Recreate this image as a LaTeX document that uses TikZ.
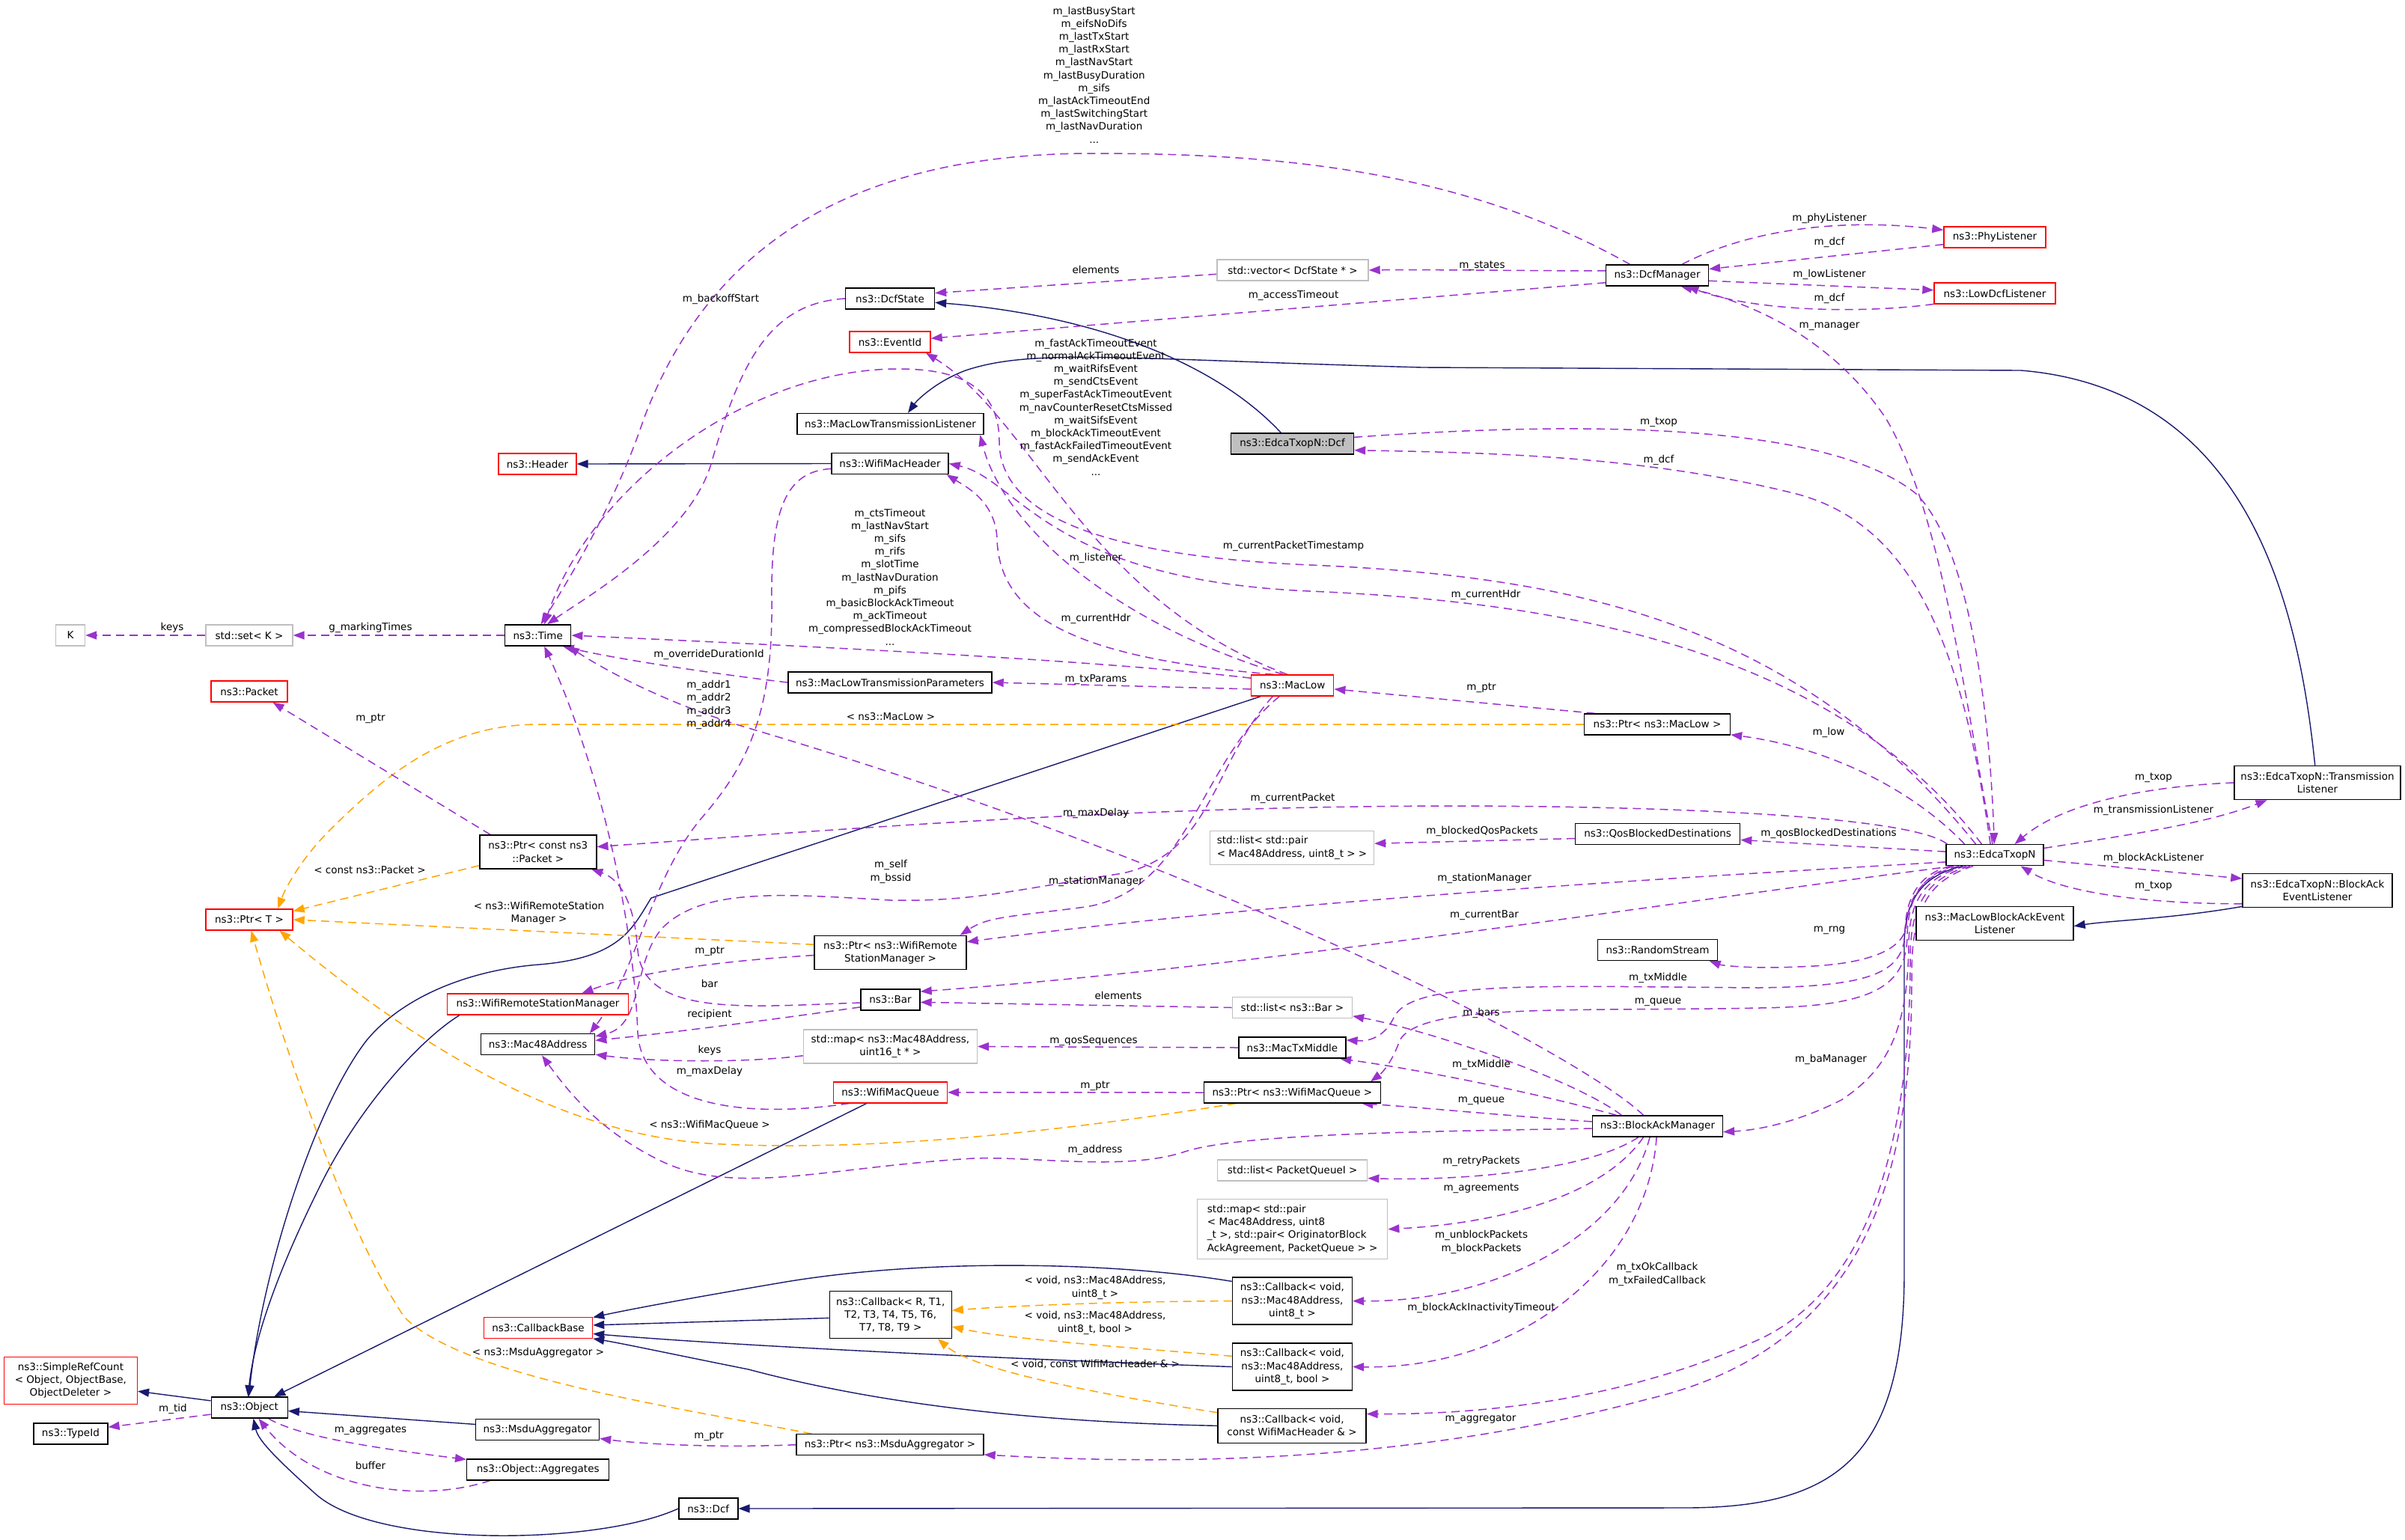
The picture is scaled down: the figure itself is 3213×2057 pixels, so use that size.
\documentclass[tikz,border=0pt]{standalone}
\usepackage{fontspec}
\setmainfont{DejaVu Sans}
\usetikzlibrary{arrows.meta}
\newcommand\dgfont{\fontsize{13.5}{17.2}\selectfont}
\definecolor{memc}{HTML}{9A32CD}
\definecolor{tmplc}{HTML}{FFA500}
\definecolor{inhc}{HTML}{191970}
\definecolor{grayb}{HTML}{BFBFBF}
\pgfdeclarelayer{back}
\pgfdeclarelayer{edges}
\pgfsetlayers{back,edges,main}
\tikzset{
  cls/.style={draw=black, line width=1.4pt, fill=white, font=\dgfont, minimum height=28pt, inner xsep=4pt, inner ysep=3pt, align=center},
  redcls/.style={cls, draw=red},
  graycls/.style={cls, draw=grayb},
  mem/.style={draw=memc, line width=1.5pt, dash pattern=on 11pt off 7pt, -{Triangle[length=15pt,width=11pt]}},
  tmpl/.style={mem, draw=tmplc},
  inh/.style={draw=inhc, line width=1.4pt, -{Triangle[length=15pt,width=11pt]}},
  lbl/.style={font=\dgfont, inner sep=0pt, align=center},
}
\begin{document}
\begin{tikzpicture}[x=1pt,y=-1pt]
\begin{pgfonlayer}{back}
\fill[white] (0,0) rectangle (3213,2057);
\end{pgfonlayer}
\path[use as bounding box] (0,0) rectangle (3213,2057);

% ---------------- nodes ----------------
\node[graycls, minimum width=202] (vec) at (1727,361) {std::vector< DcfState * >};
\node[cls, minimum width=119] (dcfstate) at (1189,399) {ns3::DcfState};
\node[redcls, minimum width=108] (eventid) at (1189,457) {ns3::EventId};
\node[cls, minimum width=249] (mltl) at (1189.5,566.5) {ns3::MacLowTransmissionListener};
\node[cls, minimum width=156] (wmh) at (1189,619.5) {ns3::WifiMacHeader};
\node[cls, fill=grayb, minimum width=164] (edcadcf) at (1726.5,593) {ns3::EdcaTxopN::Dcf};
\node[cls, minimum width=137] (dcfman) at (2214,368) {ns3::DcfManager};
\node[redcls, minimum width=136] (phyl) at (2665,317) {ns3::PhyListener};
\node[redcls, minimum width=162] (lowdcfl) at (2665,392) {ns3::LowDcfListener};
\node[redcls, minimum width=104] (header) at (718,620) {ns3::Header};
\node[graycls, minimum width=39] (K) at (94,849) {K};
\node[graycls, minimum width=116] (setK) at (333,849) {std::set< K >};
\node[cls, minimum width=88] (time) at (718.7,849) {ns3::Time};
\node[redcls, minimum width=102] (packet) at (333,924) {ns3::Packet};
\node[cls, minimum width=272] (mltp) at (1189,912) {ns3::MacLowTransmissionParameters};
\node[redcls, minimum width=110] (maclow) at (1726.7,916) {ns3::MacLow};
\node[graycls, minimum width=219, minimum height=45, align=left] (listpair) at (1726,1133) {std::list< std::pair\\< Mac48Address, uint8\_t > >};
\node[cls, minimum width=203, minimum height=45] (ptrwrsm) at (1189.5,1273) {ns3::Ptr< ns3::WifiRemote\\StationManager >};
\node[cls, minimum width=195] (ptrmaclow) at (2214,968) {ns3::Ptr< ns3::MacLow >};
\node[cls, minimum width=220] (qbd) at (2214.6,1114.7) {ns3::QosBlockedDestinations};
\node[cls, minimum width=130] (edca) at (2665,1142.7) {ns3::EdcaTxopN};
\node[cls, minimum width=222, minimum height=45] (txlist) at (3096,1046) {ns3::EdcaTxopN::Transmission\\Listener};
\node[cls, minimum width=200, minimum height=45] (baevl) at (3096,1190) {ns3::EdcaTxopN::BlockAck\\EventListener};
\node[cls, minimum width=210, minimum height=45] (mlbael) at (2665,1234) {ns3::MacLowBlockAckEvent\\Listener};
\node[cls, minimum width=160] (rng) at (2214.5,1269.5) {ns3::RandomStream};
\node[cls, minimum width=156, minimum height=45] (ptrpkt) at (718.8,1138.5) {ns3::Ptr< const ns3\\::Packet >};
\node[redcls, minimum width=242] (wrsm) at (718.5,1342) {ns3::WifiRemoteStationManager};
\node[cls, minimum width=152] (mac48) at (718.7,1395.7) {ns3::Mac48Address};
\node[cls, minimum width=79] (bar) at (1189.5,1335.8) {ns3::Bar};
\node[graycls, minimum width=232, minimum height=45] (mapmac) at (1189.4,1398.5) {std::map< ns3::Mac48Address,\\uint16\_t * >};
\node[redcls, minimum width=152] (wmq) at (1189.4,1459.8) {ns3::WifiMacQueue};
\node[graycls, minimum width=160] (listbar) at (1726.4,1346.5) {std::list< ns3::Bar >};
\node[cls, minimum width=143] (mtm) at (1726.4,1400) {ns3::MacTxMiddle};
\node[cls, minimum width=236] (ptrwmq) at (1726.4,1460) {ns3::Ptr< ns3::WifiMacQueue >};
\node[cls, minimum width=174] (bam) at (2214.4,1505) {ns3::BlockAckManager};
\node[graycls, minimum width=200] (listpq) at (1726.7,1564) {std::list< PacketQueueI >};
\node[graycls, minimum width=254, minimum height=80, align=left] (mappair) at (1726.7,1642.6) {std::map< std::pair\\< Mac48Address, uint8\\\_t >, std::pair< OriginatorBlock\\AckAgreement, PacketQueue > >};
\node[cls, minimum width=160, minimum height=63] (cb1) at (1726.4,1738.6) {ns3::Callback< void,\\ns3::Mac48Address,\\uint8\_t >};
\node[cls, minimum width=160, minimum height=63] (cb2) at (1726.4,1826.5) {ns3::Callback< void,\\ns3::Mac48Address,\\uint8\_t, bool >};
\node[cls, minimum width=163, minimum height=63] (cbR) at (1189.7,1757) {ns3::Callback< R, T1,\\T2, T3, T4, T5, T6,\\T7, T8, T9 >};
\node[cls, minimum width=198, minimum height=46] (cb3) at (1726,1905.3) {ns3::Callback< void,\\const WifiMacHeader \& >};
\node[cls, minimum width=250] (ptrmsdu) at (1189,1930.7) {ns3::Ptr< ns3::MsduAggregator >};
\node[redcls, minimum width=178, minimum height=63] (simpleref) at (94.4,1845) {ns3::SimpleRefCount\\< Object, ObjectBase,\\ObjectDeleter >};
\node[cls, minimum width=99] (typeid) at (94.4,1916) {ns3::TypeId};
\node[cls, minimum width=102] (object) at (333.2,1881) {ns3::Object};
\node[redcls, minimum width=145] (cbbase) at (719,1774.7) {ns3::CallbackBase};
\node[cls, minimum width=165] (msdu) at (718,1910.7) {ns3::MsduAggregator};
\node[cls, minimum width=190] (aggr) at (718.7,1963.8) {ns3::Object::Aggregates};
\node[cls, minimum width=79] (dcf) at (946.3,2016) {ns3::Dcf};
\node[redcls, minimum width=116] (ptrT) at (333,1229) {ns3::Ptr< T >};

\begin{pgfonlayer}{edges}
% ---------------- inheritance ----------------
\draw[inh] (edcadcf.136) .. controls (1620,480) and (1450,420) .. (dcfstate.-5);
\draw[inh] (txlist.98) .. controls (3070,800) and (3000,520) .. (2700,495) -- (1900,491) .. controls (1500,480) and (1380,465) .. (1290,495) .. controls (1250,510) and (1225,535) .. (mltl.32);
\draw[inh] (wmh.west) -- (header.east);
\draw[inh] (maclow.-161) -- (870,1200) .. controls (845,1240) and (830,1280) .. (720,1289) .. controls (630,1296) and (540,1330) .. (490,1390) .. controls (420,1480) and (350,1700) .. (object.93);
\draw[inh] (wrsm.-172) .. controls (560,1390) and (480,1480) .. (430,1580) .. controls (380,1680) and (340,1780) .. (object.97);
\draw[inh] (wmq.-155) -- (object.24);
\draw[inh] (msdu.175) -- (object.-5);
\draw[inh] (object.170) -- (simpleref.-9);
\draw[inh] (dcf.west) .. controls (800,2065) and (500,2070) .. (420,1995) .. controls (370,1950) and (345,1925) .. (object.-70);
\draw[inh] (edca.-161) .. controls (2575,1168) and (2545,1195) .. (2544,1260) -- (2544,1700) .. controls (2544,1950) and (2450,2015) .. (2250,2015) -- (dcf.east);
\draw[inh] (baevl.-168) .. controls (2900,1228) and (2820,1230) .. (mlbael.-2);
\draw[inh] (cb1.162) .. controls (1500,1688) and (1250,1680) .. (1050,1713) .. controls (920,1735) and (840,1750) .. (cbbase.11);
\draw[inh] (cbR.183) -- (cbbase.3);
\draw[inh] (cb2.west) .. controls (1400,1818) and (1000,1800) .. (cbbase.-6);
\draw[inh] (cb3.west) .. controls (1350,1900) and (1150,1870) .. (1000,1830) .. controls (900,1810) and (830,1795) .. (cbbase.-11);

% ---------------- template instances ----------------
\draw[tmpl] (ptrmaclow.west) -- (720,968) .. controls (600,968) and (520,1030) .. (440,1110) .. controls (400,1150) and (380,1190) .. (ptrT.21);
\draw[tmpl] (ptrpkt.193) -- (ptrT.11);
\draw[tmpl] (ptrwrsm.174) -- (ptrT.east);
\draw[tmpl] (ptrwmq.-169) .. controls (1400,1515) and (1150,1540) .. (946,1528) .. controls (750,1515) and (560,1400) .. (ptrT.-20);
\draw[tmpl] (ptrmsdu.172) .. controls (900,1880) and (620,1840) .. (540,1760) .. controls (460,1640) and (380,1400) .. (ptrT.-80);
\draw[tmpl] (cb1.west) .. controls (1500,1739) and (1350,1745) .. (cbR.4);
\draw[tmpl] (cb2.170) .. controls (1500,1800) and (1350,1790) .. (cbR.-11);
\draw[tmpl] (cb3.170) .. controls (1450,1860) and (1300,1830) .. (cbR.-27);

% ---------------- members ----------------
\draw[mem] (dcfman.158) .. controls (1950,225) and (1700,205) .. (1460,205) .. controls (1150,205) and (950,320) .. (860,560) .. controls (820,680) and (750,790) .. (time.75);
\draw[mem] (dcfman.175) .. controls (2050,362) and (1900,360) .. (vec.east);
\draw[mem] (vec.183) -- (dcfstate.7);
\draw[mem] (dcfman.-172) -- (eventid.5);
\draw[mem] (dcfman.24) .. controls (2330,310) and (2450,290) .. (phyl.172);
\draw[mem] (phyl.-172) -- (dcfman.7);
\draw[mem] (dcfman.-6) -- (lowdcfl.177);
\draw[mem] (lowdcfl.-170) .. controls (2480,420) and (2340,415) .. (dcfman.-20);
\draw[mem] (edca.102) .. controls (2620,900) and (2590,680) .. (2520,560) .. controls (2440,440) and (2320,400) .. (dcfman.-25);
\draw[mem] (dcfstate.west) .. controls (1030,405) and (990,480) .. (950,620) .. controls (920,720) and (780,800) .. (time.50);
\draw[mem] (edcadcf.6) .. controls (2150,560) and (2450,570) .. (2560,660) .. controls (2640,740) and (2660,1000) .. (edca.93);
\draw[mem] (edca.112) .. controls (2620,850) and (2550,700) .. (2400,660) .. controls (2200,610) and (2000,605) .. (edcadcf.-6);
\draw[mem] (maclow.115) .. controls (1450,800) and (1380,560) .. (eventid.-17);
\draw[mem] (maclow.130) .. controls (1480,830) and (1340,700) .. (mltl.-7);
\draw[mem] (edca.140) .. controls (2450,870) and (2100,805) .. (1750,790) .. controls (1400,775) and (1360,640) .. (wmh.east);
\draw[mem] (maclow.150) .. controls (1450,880) and (1335,830) .. (1332,720) .. controls (1330,670) and (1290,650) .. (wmh.-11);
\draw[mem] (edca.150) .. controls (2400,830) and (2100,770) .. (1750,755) .. controls (1450,742) and (1335,680) .. (1335,590) .. controls (1335,510) and (1270,493) .. (1200,493) .. controls (1000,493) and (790,650) .. (time.60);
\draw[mem] (maclow.170) .. controls (1450,880) and (1000,860) .. (time.east);
\draw[mem] (mltp.west) .. controls (950,900) and (820,880) .. (time.-24);
\draw[mem] (wmh.185) .. controls (1050,630) and (1030,680) .. (1031,800) .. controls (1033,950) and (1000,1020) .. (940,1090) .. controls (870,1170) and (850,1300) .. (mac48.12);
\draw[mem] (wmq.-165) .. controls (1000,1495) and (858,1480) .. (852,1380) .. controls (845,1200) and (790,1000) .. (time.-60);
\draw[mem] (bam.142) .. controls (2100,1400) and (1600,1150) .. (1000,973) .. controls (880,937) and (800,890) .. (time.-20);
\draw[mem] (setK.west) -- (K.east);
\draw[mem] (time.west) -- (setK.east);
\draw[mem] (ptrpkt.160) -- (packet.-25);
\draw[mem] (maclow.185) -- (mltp.east);
\draw[mem] (ptrmaclow.170) -- (maclow.-5);
\draw[mem] (edca.160) .. controls (2560,1060) and (2450,1000) .. (ptrmaclow.-8);
\draw[mem] (edca.167) .. controls (2560,1095) and (2300,1078) .. (1950,1077) .. controls (1500,1077) and (1100,1110) .. (ptrpkt.5);
\draw[mem] (maclow.-151) .. controls (1620,1020) and (1620,1140) .. (1500,1167) .. controls (1350,1190) and (1300,1205) .. (1190,1203) .. controls (1050,1195) and (940,1185) .. (885,1240) .. controls (845,1285) and (860,1370) .. (mac48.8);
\draw[mem] (maclow.-140) .. controls (1600,1020) and (1590,1190) .. (1450,1212) .. controls (1350,1225) and (1320,1225) .. (ptrwrsm.14);
\draw[mem] (edca.188) .. controls (2200,1175) and (1700,1205) .. (ptrwrsm.8);
\draw[mem] (ptrwrsm.182) .. controls (950,1285) and (850,1300) .. (wrsm.14);
\draw[mem] (edca.195) .. controls (2200,1210) and (1700,1290) .. (bar.15);
\draw[mem] (listbar.west) -- (bar.-5);
\draw[mem] (bar.186) .. controls (1000,1345) and (860,1360) .. (852,1270) .. controls (848,1210) and (830,1175) .. (ptrpkt.-18);
\draw[mem] (bar.194) .. controls (1050,1360) and (900,1380) .. (mac48.4);
\draw[mem] (mapmac.186) .. controls (1000,1420) and (880,1420) .. (mac48.-10);
\draw[mem] (mtm.west) -- (mapmac.east);
\draw[mem] (ptrwmq.west) -- (wmq.east);
\draw[mem] (edca.-165) .. controls (2572,1168) and (2549,1195) .. (2548,1250) .. controls (2547,1320) and (2500,1345) .. (2350,1347) .. controls (2100,1352) and (1900,1340) .. (1870,1390) .. controls (1860,1420) and (1845,1435) .. (ptrwmq.8);
\draw[mem] (edca.-166) .. controls (2570,1166) and (2546,1192) .. (2545,1245) .. controls (2544,1300) and (2500,1318) .. (2350,1320) .. controls (2050,1318) and (1885,1310) .. (1862,1360) .. controls (1850,1385) and (1830,1392) .. (mtm.8);
\draw[mem] (edca.176) -- (qbd.-4);
\draw[mem] (qbd.183) -- (listpair.3);
\draw[mem] (edca.-163) .. controls (2572,1168) and (2550,1195) .. (2547,1235) .. controls (2544,1275) and (2480,1290) .. (2400,1292) .. controls (2340,1295) and (2300,1290) .. (rng.-12);
\draw[mem] (edca.-159) .. controls (2575,1170) and (2551,1200) .. (2550,1260) .. controls (2549,1380) and (2520,1430) .. (2460,1470) .. controls (2400,1500) and (2350,1510) .. (bam.-5);
\draw[mem] (bam.163) .. controls (2100,1440) and (1900,1375) .. (listbar.-8);
\draw[mem] (bam.165) .. controls (2050,1460) and (1900,1430) .. (mtm.-13);
\draw[mem] (bam.176) .. controls (2000,1490) and (1900,1480) .. (ptrwmq.-9);
\draw[mem] (bam.182) .. controls (1900,1512) and (1650,1515) .. (1580,1540) .. controls (1500,1565) and (1380,1545) .. (1300,1548) .. controls (1100,1560) and (980,1600) .. (880,1550) .. controls (800,1510) and (760,1460) .. (mac48.-70);
\draw[mem] (bam.-150) .. controls (2120,1565) and (1950,1578) .. (listpq.-6);
\draw[mem] (bam.-142) .. controls (2140,1600) and (2000,1635) .. (mappair.east);
\draw[mem] (bam.-125) .. controls (2170,1650) and (2000,1740) .. (cb1.east);
\draw[mem] (bam.-95) .. controls (2200,1700) and (2020,1830) .. (cb2.east);
\draw[mem] (edca.-156) .. controls (2578,1172) and (2552,1205) .. (2552,1280) .. controls (2552,1520) and (2500,1720) .. (2350,1790) .. controls (2150,1880) and (1950,1890) .. (cb3.9);
\draw[mem] (edca.-153) .. controls (2580,1175) and (2554,1210) .. (2554,1300) .. controls (2555,1560) and (2500,1800) .. (2200,1870) .. controls (1900,1950) and (1600,1960) .. (ptrmsdu.-6);
\draw[mem] (ptrmsdu.west) .. controls (960,1935) and (860,1930) .. (msdu.-8);
\draw[mem] (object.190) -- (typeid.10);
\draw[mem] (object.-30) .. controls (400,1920) and (500,1935) .. (aggr.172);
\draw[mem] (aggr.193) .. controls (560,2010) and (420,1990) .. (object.-50);
\draw[mem] (txlist.west) .. controls (2880,1050) and (2760,1070) .. (edca.29);
\draw[mem] (edca.8) .. controls (2850,1115) and (2950,1100) .. (txlist.-161);
\draw[mem] (edca.-6) -- (baevl.171);
\draw[mem] (baevl.-170) .. controls (2880,1208) and (2760,1195) .. (edca.-23);
\end{pgfonlayer}

% ---------------- labels ----------------
\node[lbl] (l01) at (1461.7,100) {m\_lastBusyStart\\m\_eifsNoDifs\\m\_lastTxStart\\m\_lastRxStart\\m\_lastNavStart\\m\_lastBusyDuration\\m\_sifs\\m\_lastAckTimeoutEnd\\m\_lastSwitchingStart\\m\_lastNavDuration\\...};
\node[lbl] (l02) at (2444,292) {m\_phyListener};
\node[lbl] (l03) at (2444,324) {m\_dcf};
\node[lbl] (l04) at (2444,367) {m\_lowListener};
\node[lbl] (l05) at (2444,399) {m\_dcf};
\node[lbl] (l06) at (2444,436) {m\_manager};
\node[lbl] (l07) at (1980,355) {m\_states};
\node[lbl] (l08) at (1464,360) {elements};
\node[lbl] (l09) at (1728,395) {m\_accessTimeout};
\node[lbl] (l10) at (963,400) {m\_backoffStart};
\node[lbl] (l11) at (1464,544) {m\_fastAckTimeoutEvent\\m\_normalAckTimeoutEvent\\m\_waitRifsEvent\\m\_sendCtsEvent\\m\_superFastAckTimeoutEvent\\m\_navCounterResetCtsMissed\\m\_waitSifsEvent\\m\_blockAckTimeoutEvent\\m\_fastAckFailedTimeoutEvent\\m\_sendAckEvent\\...};
\node[lbl] (l12) at (2216,564) {m\_txop};
\node[lbl] (l13) at (2216,615) {m\_dcf};
\node[lbl] (l14) at (1189,771) {m\_ctsTimeout\\m\_lastNavStart\\m\_sifs\\m\_rifs\\m\_slotTime\\m\_lastNavDuration\\m\_pifs\\m\_basicBlockAckTimeout\\m\_ackTimeout\\m\_compressedBlockAckTimeout\\...};
\node[lbl] (l15) at (1728,730) {m\_currentPacketTimestamp};
\node[lbl] (l16) at (1464,746) {m\_listener};
\node[lbl] (l17) at (1985,795) {m\_currentHdr};
\node[lbl] (l18) at (1464,827) {m\_currentHdr};
\node[lbl] (l19) at (495,839) {g\_markingTimes};
\node[lbl] (l20) at (230,839) {keys};
\node[lbl] (l21) at (947,875) {m\_overrideDurationId};
\node[lbl] (l22) at (947,942) {m\_addr1\\m\_addr2\\m\_addr3\\m\_addr4};
\node[lbl] (l23) at (1464,908) {m\_txParams};
\node[lbl] (l24) at (1979,919) {m\_ptr};
\node[lbl] (l25) at (1190,958) {< ns3::MacLow >};
\node[lbl] (l26) at (495,960) {m\_ptr};
\node[lbl] (l27) at (2443,979) {m\_low};
\node[lbl] (l28) at (2877,1039) {m\_txop};
\node[lbl] (l29) at (1727,1067) {m\_currentPacket};
\node[lbl] (l30) at (2877,1083) {m\_transmissionListener};
\node[lbl] (l31) at (1464,1087) {m\_maxDelay};
\node[lbl] (l32) at (1980,1111) {m\_blockedQosPackets};
\node[lbl] (l33) at (2443,1114) {m\_qosBlockedDestinations};
\node[lbl] (l34) at (2877,1147) {m\_blockAckListener};
\node[lbl] (l35) at (1190,1165) {m\_self\\m\_bssid};
\node[lbl] (l36) at (494,1162) {< const ns3::Packet >};
\node[lbl] (l37) at (1464,1178) {m\_stationManager};
\node[lbl] (l38) at (1983,1174) {m\_stationManager};
\node[lbl] (l39) at (2877,1184) {m\_txop};
\node[lbl] (l40) at (720,1220) {< ns3::WifiRemoteStation\\Manager >};
\node[lbl] (l41) at (1983,1223) {m\_currentBar};
\node[lbl] (l42) at (2444,1243) {m\_rng};
\node[lbl] (l43) at (948,1271) {m\_ptr};
\node[lbl] (l44) at (2215,1307) {m\_txMiddle};
\node[lbl] (l45) at (948,1314) {bar};
\node[lbl] (l46) at (1494,1330) {elements};
\node[lbl] (l47) at (2215,1339) {m\_queue};
\node[lbl] (l48) at (1979,1354) {m\_bars};
\node[lbl] (l49) at (948,1356) {recipient};
\node[lbl] (l50) at (1461,1391) {m\_qosSequences};
\node[lbl] (l51) at (948,1404) {keys};
\node[lbl] (l52) at (2446,1416) {m\_baManager};
\node[lbl] (l53) at (1979,1423) {m\_txMiddle};
\node[lbl] (l54) at (948,1432) {m\_maxDelay};
\node[lbl] (l55) at (1463,1451) {m\_ptr};
\node[lbl] (l56) at (1979,1471) {m\_queue};
\node[lbl] (l57) at (948,1503) {< ns3::WifiMacQueue >};
\node[lbl] (l58) at (1463,1537) {m\_address};
\node[lbl] (l59) at (1979,1552) {m\_retryPackets};
\node[lbl] (l60) at (1979,1588) {m\_agreements};
\node[lbl] (l61) at (1979,1660) {m\_unblockPackets\\m\_blockPackets};
\node[lbl] (l62) at (2214,1703) {m\_txOkCallback\\m\_txFailedCallback};
\node[lbl] (l63) at (1463,1721) {< void, ns3::Mac48Address,\\uint8\_t >};
\node[lbl] (l64) at (1979,1748) {m\_blockAckInactivityTimeout};
\node[lbl] (l65) at (1463,1768) {< void, ns3::Mac48Address,\\uint8\_t, bool >};
\node[lbl] (l66) at (719,1808) {< ns3::MsduAggregator >};
\node[lbl] (l67) at (1463,1823) {< void, const WifiMacHeader \& >};
\node[lbl] (l68) at (231,1883) {m\_tid};
\node[lbl] (l69) at (1978,1896) {m\_aggregator};
\node[lbl] (l70) at (495,1911) {m\_aggregates};
\node[lbl] (l71) at (947,1919) {m\_ptr};
\node[lbl] (l72) at (495,1958) {buffer};
\end{tikzpicture}
\end{document}
